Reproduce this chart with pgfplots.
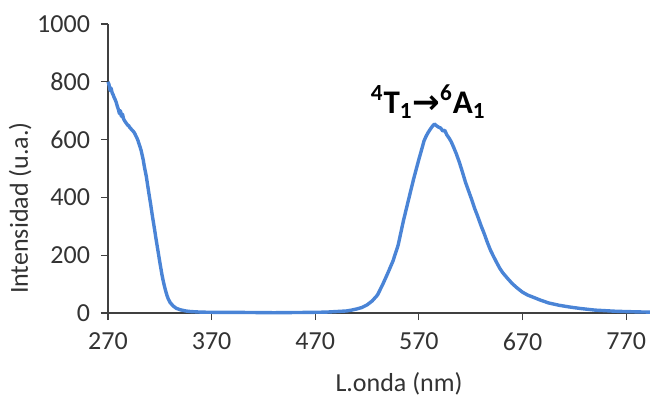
\documentclass[border=0pt]{standalone}
\usepackage{pgfplots}
\pgfplotsset{compat=1.18}
\usepackage{fontspec}
\setmainfont{Carlito}
\newfontfamily\symfont{DejaVu Sans}
\definecolor{specblue}{RGB}{74,132,214}
\definecolor{axisgray}{RGB}{64,64,64}

\pgfplotstableread{
x y
270 800
271 790
272 770
273 778
274 762
275 755
276 745
277 738
278 728
279 715
280 705
281 690
282 700
283 680
284 688
285 672
286 665
287 660
288 655
289 650
290 648
291 642
292 638
293 634
294 630
295 626
296 620
297 612
298 605
299 596
300 585
301 574
302 562
303 546
304 530
305 508
306 490
307 472
308 448
309 425
310 402
311 380
312 356
313 332
314 310
315 288
316 264
317 242
318 220
319 198
320 176
321 155
322 134
323 116
324 100
325 85
326 72
327 60
328 50
330 36
333 24
336 16
340 11
345 7
350 5
360 3
380 2
400 2
430 1
460 2
480 3
490 5
500 7
505 10
510 14
515 19
520 28
525 42
530 62
535 98
540 138
545 180
550 235
555 318
560 392
565 465
570 532
573 570
575 596
577 612
579 625
581 636
583 646
585 654
587 648
589 643
591 640
593 630
595 632
597 616
599 606
601 594
603 578
606 552
609 522
612 488
615 452
618 422
621 392
624 360
627 332
630 302
633 275
636 245
639 218
642 196
645 175
648 155
651 139
655 122
660 102
665 86
670 72
675 62
680 55
687 45
695 35
705 27
715 21
725 16
740 10
760 6
780 4
793 3
}\spectrum

\begin{document}
\begin{tikzpicture}
\begin{axis}[
  scale only axis,
  width=271pt, height=144.5pt,
  xmin=270, xmax=793,
  ymin=0, ymax=1000,
  xtick={270,370,...,770},
  ytick={0,200,...,1000},
  axis x line*=bottom,
  axis y line*=left,
  axis line style={axisgray, line width=0.6pt},
  tick style={axisgray, line width=0.6pt},
  tick align=outside,
  major tick length=3.5pt,
  font=\fontsize{13}{15}\selectfont,
  tick label style={text=black!80},
  /pgf/number format/assume math mode=true,
  /pgf/number format/1000 sep={},
  xticklabel style={yshift=-3pt},
  yticklabel style={xshift=-2pt},
  xlabel={L.onda (nm)},
  ylabel={Intensidad (u.a.)},
  xlabel style={at={(axis description cs:0.537,-0.2457)}, anchor=center, text=black!80},
  ylabel style={at={(axis description cs:-0.162,0.363)}, anchor=center, rotate=0, text=black!80},
  clip=false,
]
\addplot[specblue, line width=1.7pt, line join=round] table[x=x, y=y] {\spectrum};
\node[font=\fontsize{16.5}{19}\selectfont\bfseries] at (axis cs:579,732)
  {\textsuperscript{4}T\textsubscript{1}{\symfont\bfseries →}\textsuperscript{6}A\textsubscript{1}};
\end{axis}
\pgfresetboundingbox
\path (-54pt,-45.5pt) rectangle (271pt,156.5pt);
\end{tikzpicture}
\end{document}
